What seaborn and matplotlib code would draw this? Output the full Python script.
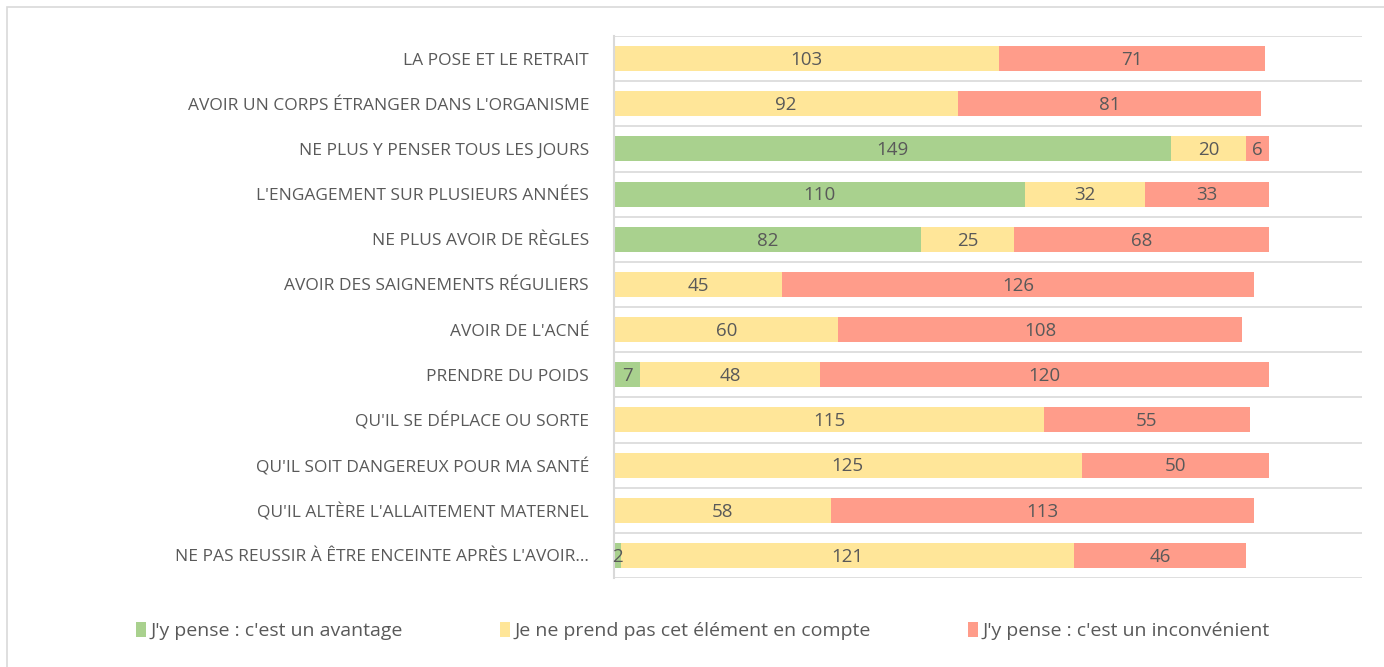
import matplotlib
matplotlib.use("Agg")
import matplotlib.pyplot as plt
from matplotlib.patches import Patch, Rectangle
import pandas as pd
import seaborn as sns

# Data (top to bottom as in the chart)
categories = [
    "LA POSE ET LE RETRAIT",
    "AVOIR UN CORPS ÉTRANGER DANS L'ORGANISME",
    "NE PLUS Y PENSER TOUS LES JOURS",
    "L'ENGAGEMENT SUR PLUSIEURS ANNÉES",
    "NE PLUS AVOIR DE RÈGLES",
    "AVOIR DES SAIGNEMENTS RÉGULIERS",
    "AVOIR DE L'ACNÉ",
    "PRENDRE DU POIDS",
    "QU'IL SE DÉPLACE OU SORTE",
    "QU'IL SOIT DANGEREUX POUR MA SANTÉ",
    "QU'IL ALTÈRE L'ALLAITEMENT MATERNEL",
    "NE PAS REUSSIR À ÊTRE ENCEINTE APRÈS L'AVOIR…",
]
avantage = [0, 0, 149, 110, 82, 0, 0, 7, 0, 0, 0, 2]
neutre = [103, 92, 20, 32, 25, 45, 60, 48, 115, 125, 58, 121]
inconvenient = [71, 81, 6, 33, 68, 126, 108, 120, 55, 50, 113, 46]

series_names = [
    "J'y pense : c'est un avantage",
    "Je ne prend pas cet élément en compte",
    "J'y pense : c'est un inconvénient",
]
colors = ["#A9D18E", "#FFE699", "#FF9C8A"]
text_color = "#595959"

df = pd.DataFrame({
    "categorie": categories,
    "avantage": avantage,
    "neutre": neutre,
    "inconvenient": inconvenient,
})
df["cum1"] = df["avantage"]
df["cum2"] = df["cum1"] + df["neutre"]
df["cum3"] = df["cum2"] + df["inconvenient"]

sns.set_style("white")
plt.rcParams["font.family"] = ["Open Sans", "DejaVu Sans"]

fig = plt.figure(figsize=(13.84, 6.67), dpi=100)
ax = fig.add_axes([614 / 1384, 1 - 578 / 667, (1362 - 614) / 1384, (578 - 36) / 667])

# stacked bars: draw cumulative totals from longest to shortest
for col, color in zip(["cum3", "cum2", "cum1"], colors[::-1]):
    sns.barplot(data=df, x=col, y="categorie", color=color, orient="h",
                width=0.55, linewidth=0, saturation=1, ax=ax)

# value labels centred in each segment
for i, row in df.iterrows():
    starts = [0, row["cum1"], row["cum2"]]
    vals = [row["avantage"], row["neutre"], row["inconvenient"]]
    for s, v in zip(starts, vals):
        if v > 0:
            ax.text(s + v / 2, i + 0.03, str(v), ha="center", va="center",
                    fontsize=13.5, color=text_color)

ax.set_xlim(0, 200)
ax.set_ylim(len(categories) - 0.5, -0.5)
ax.set_xlabel("")
ax.set_ylabel("")
ax.set_xticks([])
for b in [i - 0.5 for i in range(len(categories) + 1)]:
    ax.axhline(b, color="#D9D9D9", linewidth=1.2, zorder=0)
for side in ["top", "right", "bottom"]:
    ax.spines[side].set_visible(False)
ax.spines["left"].set_color("#D9D9D9")
ax.spines["left"].set_linewidth(1.5)
ax.tick_params(axis="y", length=0, pad=18, labelsize=12.5, labelcolor=text_color)

# legend
handles = [Patch(facecolor=c, edgecolor="none") for c in colors]
fig.legend(handles, series_names, loc="center", bbox_to_anchor=(0.508, 1 - 631 / 667),
           ncol=3, frameon=False, fontsize=14, labelcolor=text_color,
           handlelength=0.5, handleheight=0.8, handletextpad=0.25, columnspacing=5.0)

# outer chart frame
fig.patches.append(Rectangle((7 / 1384, -0.2), 1.2, 1.2 - 7 / 667,
                             transform=fig.transFigure, fill=False,
                             edgecolor="#D9D9D9", linewidth=1.2))

fig.savefig("out.png", dpi=100)
